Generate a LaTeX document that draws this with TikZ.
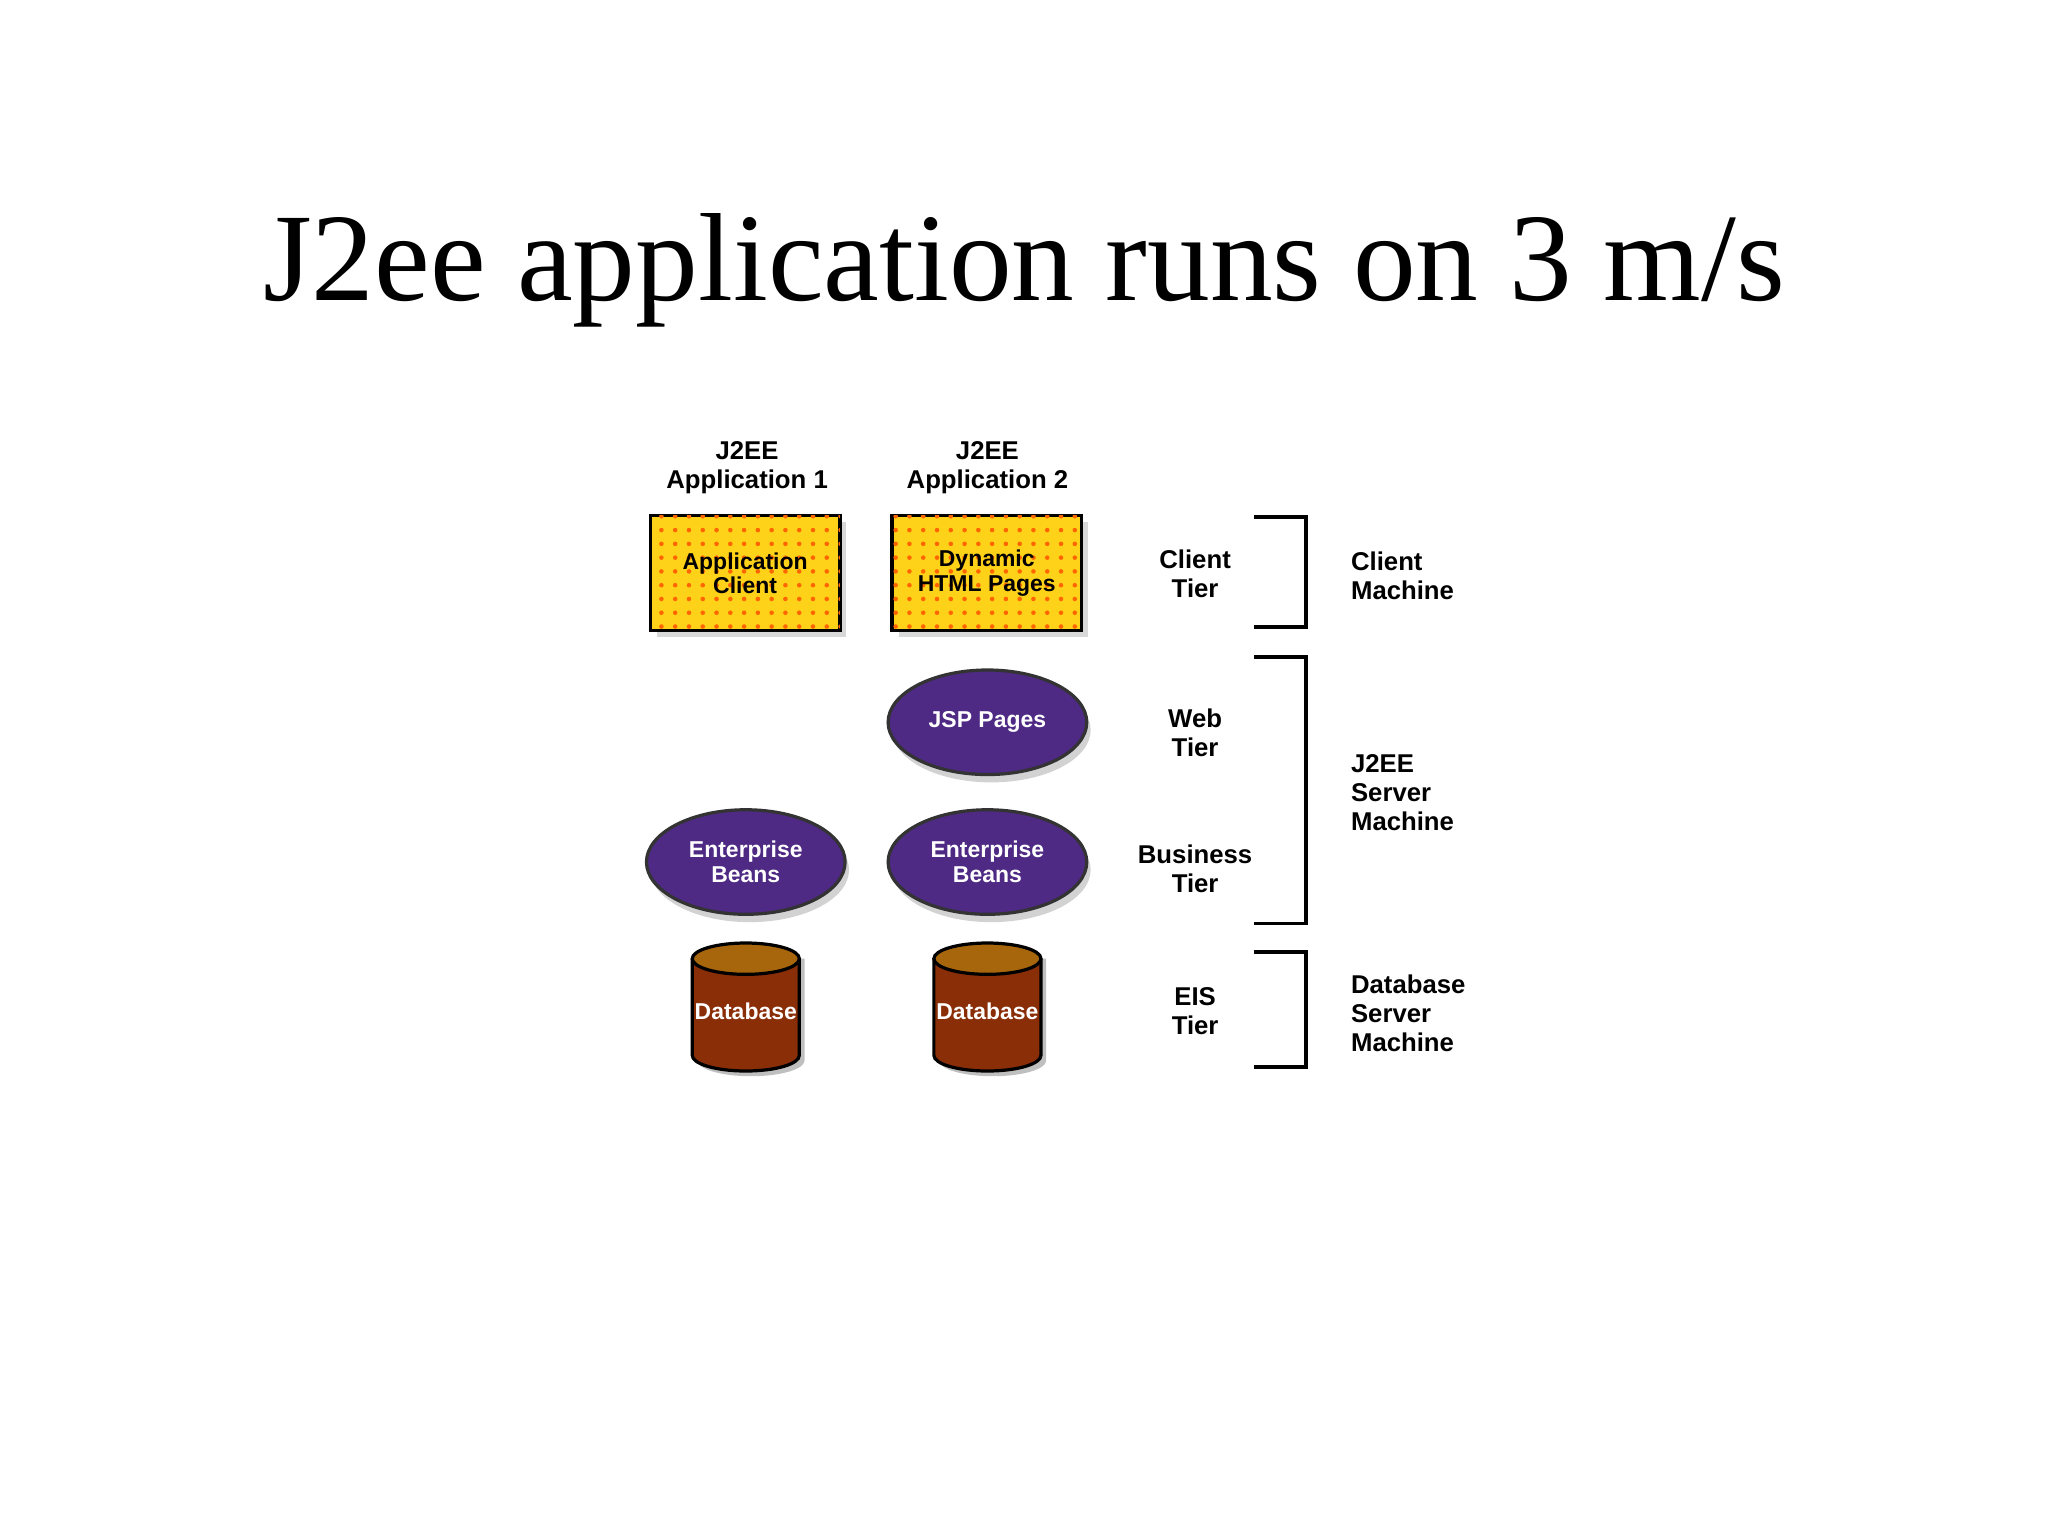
\documentclass[tikz,border=0pt]{standalone}
\usepackage{fontspec}
\setmainfont{Liberation Serif}
\newfontfamily\lab{Liberation Sans}
\usetikzlibrary{shapes.geometric,patterns,shadows}
\definecolor{ejb}{HTML}{4E2A84}
\definecolor{box}{HTML}{FFD21A}
\definecolor{dbb}{HTML}{8A2E08}
\definecolor{dbt}{HTML}{A8660C}
\tikzset{
 lbl/.style={font=\lab\bfseries\fontsize{5.6}{6.3}\selectfont,align=center},
 sl/.style={font=\lab\bfseries\fontsize{5}{5.4}\selectfont,align=center},
 wl/.style={font=\lab\bfseries\fontsize{5}{5.4}\selectfont,align=center,text=white},
 ml/.style={font=\lab\bfseries\fontsize{5.6}{6.3}\selectfont,align=left,anchor=west},
 bx/.style={draw=black,line width=0.7pt,fill=box,minimum width=1.45cm,minimum height=0.88cm,inner sep=0pt,
   drop shadow={shadow xshift=0.05cm,shadow yshift=-0.05cm,fill=gray!60},
   postaction={pattern=dots,pattern color=orange!80!red}},
 el/.style={ellipse,draw=black!80,line width=0.7pt,fill=ejb,minimum width=1.52cm,minimum height=0.8cm,inner sep=0pt,
   drop shadow={shadow xshift=0.03cm,shadow yshift=-0.06cm,fill=gray!70}},
 br/.style={line width=0.8pt}
}
\newcommand{\cyl}[3]{% x center, y top, name
 \fill[gray!50] (#1-37,#2+12) -- (#1-37,#2+90) arc[start angle=180,end angle=360,x radius=41,y radius=-12] -- (#1+45,#2+12) -- cycle;
 \filldraw[fill=dbb,draw=black,line width=0.7pt] (#1-41,#2+12) -- (#1-41,#2+86) arc[start angle=180,end angle=360,x radius=41,y radius=-12] -- (#1+41,#2+12);
 \filldraw[fill=dbt,draw=black,line width=0.7pt] (#1,#2+12) ellipse[x radius=41,y radius=12];
 \node[wl] (#3) at (#1,#2+52) {Database};
}
\begin{document}
\begin{tikzpicture}[x=0.01cm,y=-0.01cm]
\useasboundingbox (0,0) rectangle (1568,1176);
\node[font=\fontsize{27.3}{27.3}\selectfont] (title) at (784,207) {J2ee application runs on 3 m/s};
\node[lbl] (a1) at (572,358) {J2EE\\Application 1};
\node[lbl] (a2) at (756,358) {J2EE\\Application 2};
\node[bx,sl] (ac) at (570.5,439) {Application\\Client};
\node[bx,sl] (dh) at (755.5,439) {Dynamic\\HTML Pages};
\node[el,wl] (jsp) at (756,553) {JSP Pages};
\node[el,wl] (eb1) at (571,660) {Enterprise\\Beans};
\node[el,wl] (eb2) at (756,660) {Enterprise\\Beans};
\cyl{571}{722}{db1}
\cyl{756}{722}{db2}
\node[lbl] (ct) at (915,439) {Client\\Tier};
\node[lbl] (wt) at (915,561) {Web\\Tier};
\node[lbl] (bt) at (915,665) {Business\\Tier};
\node[lbl] (et) at (915,774) {EIS\\Tier};
\draw[br] (960,396) -- (1000,396) -- (1000,480) -- (960,480);
\draw[br] (960,503) -- (1000,503) -- (1000,707) -- (960,707);
\draw[br] (960,729) -- (1000,729) -- (1000,817) -- (960,817);
\node[ml] (cm) at (1022,441) {Client\\Machine};
\node[ml] (jm) at (1022,607) {J2EE\\Server\\Machine};
\node[ml] (dm) at (1022,776) {Database\\Server\\Machine};
\end{tikzpicture}
\end{document}
